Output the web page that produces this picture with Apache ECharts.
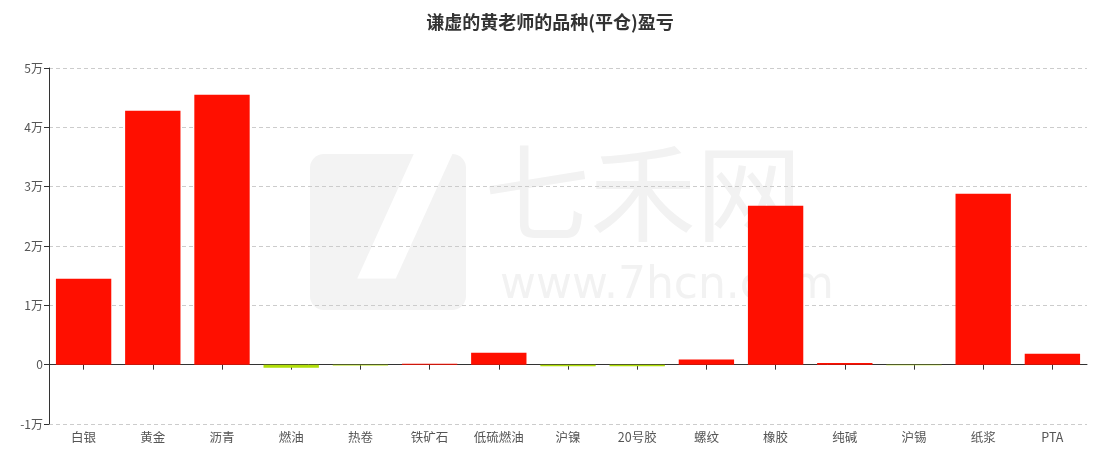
<!DOCTYPE html>
<html><head><meta charset="utf-8">
<script src="https://cdn.jsdelivr.net/npm/echarts@6/dist/echarts.min.js"></script>
<style>html,body{margin:0;padding:0;background:#fff}#c{width:1100px;height:456px}</style>
</head><body><div id="c"></div>
<script>
var titleText = '谦虚的黄老师的品种(平仓)盈亏';
var categories = ['白银','黄金','沥青','燃油','热卷','铁矿石','低硫燃油','沪镍','20号胶','螺纹','橡胶','纯碱','沪锡','纸浆','PTA'];
var values = [14500, 42800, 45500, -500, -150, 150, 2000, -250, -250, 850, 26800, 300, -80, 28800, 1850];
var yTicks = [-10000, 0, 10000, 20000, 30000, 40000, 50000];

var POS = '#FF0F00', NEG = '#B0DE09';
var chart = echarts.init(document.getElementById('c'), null, {renderer:'canvas'});
var font = '"Noto Sans CJK SC", "Noto Sans", sans-serif';
chart.setOption({
  animation:false,
  textStyle:{fontFamily:font},
  title:{text:titleText, left:'center', top:8, textStyle:{fontSize:18, fontWeight:'bold', color:'#333', fontFamily:font}},
  graphic:[
    {type:'rect', left:310, top:154, shape:{width:156, height:156, r:14}, style:{fill:'#f3f3f3'}, z:-10, silent:true},
    {type:'text', left:326, top:118, style:{text:'7', font:'bold 210px "DejaVu Sans"', fill:'#ffffff'}, z:-9, silent:true},
    {type:'text', left:484, top:140, style:{text:'七禾网', font:'106px "Noto Sans CJK SC"', fill:'#f2f2f2'}, z:-10, silent:true},
    {type:'text', left:500, top:265, style:{text:'www.7hcn.com', font:'44px "DejaVu Sans"', fill:'#f2f2f2'}, z:-10, silent:true}
  ],
  grid:{left:49, right:13, top:68, bottom:32, containLabel:false},
  xAxis:[
    {type:'category', data:categories, position:'bottom',
     axisLine:{onZero:true, lineStyle:{color:'#333'}},
     axisTick:{show:true, alignWithLabel:true, lineStyle:{color:'#333'}},
     axisLabel:{show:false}},
    {type:'category', data:categories, position:'bottom',
     axisLine:{show:false, onZero:false}, axisTick:{show:false},
     axisLabel:{show:true, color:'#555', fontSize:12.5, margin:7, fontFamily:font}}
  ],
  yAxis:{type:'value', min:-10000, max:50000, interval:10000,
    axisLine:{show:true, lineStyle:{color:'#333'}},
    axisTick:{show:true, lineStyle:{color:'#333'}},
    axisLabel:{color:'#555', fontSize:12, margin:6, fontFamily:font,
      formatter:function(v){ return v===0 ? '0' : (v/10000)+'万'; }},
    splitLine:{show:true, lineStyle:{color:'#ccc', type:[4,3]}}
  },
  series:[{type:'bar', xAxisIndex:0, data:values.map(function(v){
      return {value:v, itemStyle:{color: v>=0 ? POS : NEG}};
    }), barCategoryGap:'20%'}]
});
</script></body></html>
